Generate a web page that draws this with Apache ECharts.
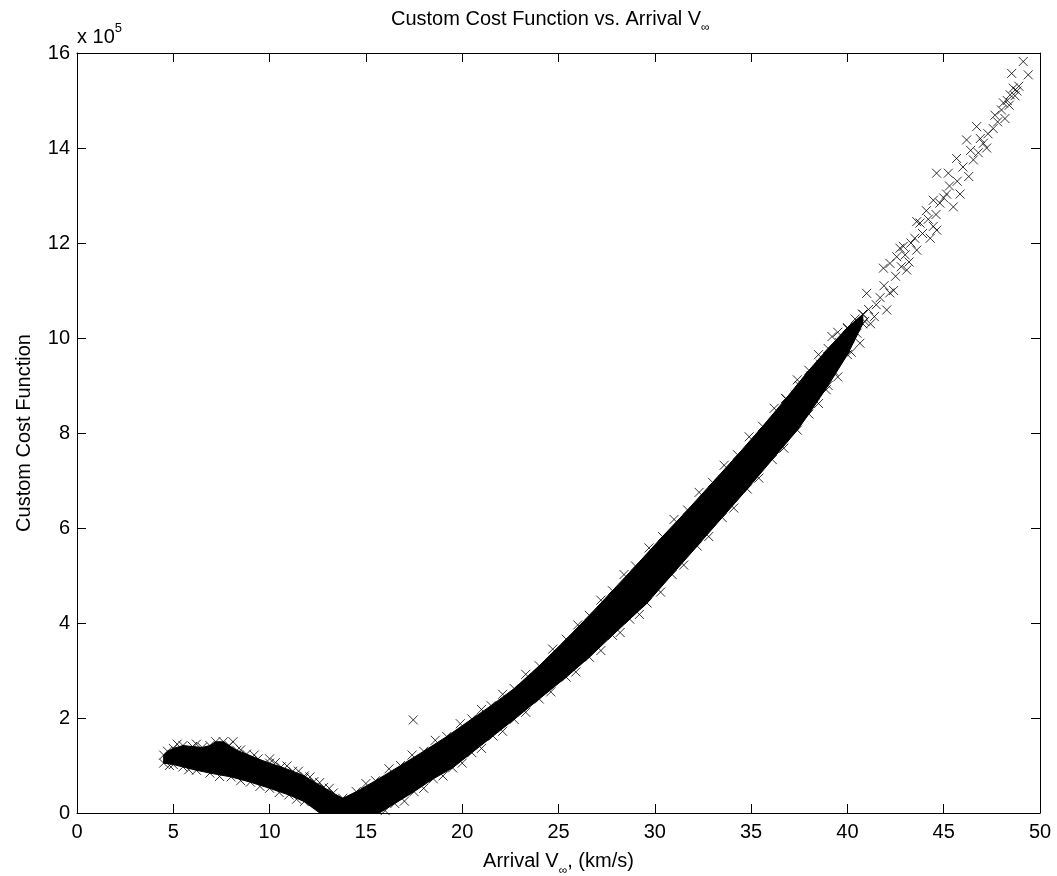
<!DOCTYPE html>
<html>
<head>
<meta charset="utf-8">
<title>Custom Cost Function vs. Arrival V∞</title>
<script src="https://cdn.jsdelivr.net/npm/echarts@6/dist/echarts.min.js"></script>
<style>
  html, body { margin: 0; padding: 0; background: #fff; }
  #main { width: 1057px; height: 876px; }
</style>
</head>
<body>
<div id="main"></div>
<script>
// values, y in units of 1e5
var xTicks = [0, 5, 10, 15, 20, 25, 30, 35, 40, 45, 50];
var yTicks = [0, 2, 4, 6, 8, 10, 12, 14, 16];

// upper edge of the dense cloud, left to right
var bandUpper = [
    [4.5, 1.22], [4.7, 1.30], [5.0, 1.36], [5.5, 1.42], [6.0, 1.40], [6.5, 1.38],
    [6.9, 1.42], [7.2, 1.50], [7.6, 1.50], [7.9, 1.42], [8.3, 1.32], [8.8, 1.24],
    [9.4, 1.14], [10.0, 1.05], [10.6, 0.97], [11.2, 0.88], [11.8, 0.78], [12.3, 0.66],
    [12.8, 0.54], [13.3, 0.42], [13.8, 0.31], [14.5, 0.45], [15.5, 0.68], [16.8, 1.00],
    [18.0, 1.30], [19.2, 1.61], [20.5, 1.98], [21.5, 2.26], [22.7, 2.62], [24.0, 3.10],
    [25.4, 3.66], [26.6, 4.16], [27.8, 4.68], [29.0, 5.20], [30.4, 5.82], [31.7, 6.38],
    [33.0, 6.96], [34.3, 7.54], [35.6, 8.14], [36.8, 8.72], [38.0, 9.32], [39.0, 9.78],
    [40.0, 10.22], [40.8, 10.50]
];
// lower edge of the dense cloud, left to right
var bandLower = [
    [4.5, 1.05], [5.0, 1.02], [5.5, 0.97], [6.2, 0.90], [6.9, 0.84], [8.0, 0.76],
    [9.0, 0.65], [10.0, 0.52], [11.0, 0.38], [11.8, 0.24], [12.6, 0.0], [15.7, 0.0],
    [16.5, 0.20], [17.5, 0.45], [18.5, 0.72], [19.5, 0.95], [20.5, 1.27], [21.6, 1.62],
    [22.7, 1.97], [24.0, 2.40], [25.4, 2.86], [26.6, 3.28], [27.8, 3.74], [28.7, 4.08],
    [29.6, 4.42], [30.9, 5.02], [32.2, 5.62], [33.5, 6.22], [34.8, 6.82], [36.1, 7.44],
    [37.4, 8.06], [38.0, 8.40], [39.0, 9.00], [40.0, 9.65], [40.8, 10.30]
];
// markers poking out of the band edges
var edgeFuzz = [
    [5.2, 1.45], [6.2, 1.45], [8.5, 1.33], [9.2, 1.22], [10.3, 1.06], [10.9, 0.99],
    [11.5, 0.88], [12.1, 0.76], [12.6, 0.64], [13.1, 0.52],
    [4.8, 1.00], [5.8, 0.91], [7.4, 0.77], [8.5, 0.68], [9.5, 0.56], [10.5, 0.43], [11.4, 0.29],
    [16.0, 0.05], [17.0, 0.25], [18.0, 0.52], [19.0, 0.78], [20.0, 1.05], [21.0, 1.36],
    [22.1, 1.72], [23.3, 2.12], [24.6, 2.55], [25.9, 2.97], [27.2, 3.42], [28.2, 3.80],
    [29.2, 4.18], [30.3, 4.65], [31.5, 5.22], [32.8, 5.82], [34.1, 6.42], [35.4, 7.05],
    [36.7, 7.68], [38.5, 8.62], [39.5, 9.18],
    [15.0, 0.62], [16.2, 0.93], [17.4, 1.22], [18.6, 1.53], [19.9, 1.88], [21.0, 2.18],
    [22.1, 2.50], [23.3, 2.92], [24.7, 3.45], [26.0, 3.96], [27.2, 4.48], [28.4, 5.02],
    [29.7, 5.58], [31.0, 6.18], [32.3, 6.75], [33.6, 7.32], [34.9, 7.92], [36.2, 8.52],
    [37.4, 9.12], [38.5, 9.65], [39.5, 10.12]
];
// loose markers at the top end
var sparsePoints = [
    [36.8, 8.73], [37.2, 8.55], [37.5, 9.00], [37.8, 8.70], [38.1, 9.20], [38.3, 8.80],
    [38.6, 9.45], [38.9, 8.91], [39.2, 10.03], [39.4, 9.50], [39.7, 9.75], [40.0, 10.20],
    [40.2, 9.70], [40.4, 10.40], [40.65, 9.89], [40.8, 10.50], [41.0, 10.94], [41.2, 10.30],
    [41.5, 10.70], [41.87, 11.47], [42.04, 10.59], [42.21, 11.57], [42.4, 11.00], [42.56, 11.71],
    [42.73, 11.89], [42.9, 11.93], [43.08, 11.43], [43.3, 12.00], [43.6, 12.45], [43.6, 11.85],
    [43.77, 12.42], [44.1, 12.68], [44.3, 12.10], [44.46, 12.35], [44.46, 12.90], [44.63, 13.47],
    [44.64, 12.27], [44.8, 12.84], [45.15, 13.03], [45.24, 13.47], [45.5, 12.76], [45.67, 13.78],
    [45.85, 13.03], [46.19, 14.17], [46.3, 13.40], [46.54, 13.75], [46.71, 14.45], [46.8, 13.90],
    [47.06, 14.10], [47.23, 14.00], [47.57, 14.41], [47.66, 14.69], [48.0, 14.80], [48.18, 14.62],
    [48.3, 15.00], [48.45, 15.12], [48.53, 15.57], [48.61, 15.26], [48.7, 15.10], [48.9, 15.30],
    [49.13, 15.82], [49.39, 15.54],
    [37.0, 8.40], [37.3, 8.80], [37.6, 8.65], [37.9, 9.05], [38.2, 8.95], [38.5, 9.10],
    [38.8, 9.35], [39.0, 9.60], [39.3, 9.30], [39.6, 9.90], [39.9, 9.80], [40.1, 10.00],
    [40.5, 10.10], [40.9, 10.35], [41.1, 10.60], [41.4, 10.45], [41.7, 10.85], [41.9, 11.10],
    [42.2, 10.95], [42.5, 11.30], [42.8, 11.50], [43.0, 11.75], [43.2, 11.60], [43.5, 12.10],
    [43.9, 12.20], [44.2, 12.50], [44.6, 12.60], [45.0, 12.95], [45.3, 13.20], [45.7, 13.30],
    [46.0, 13.60], [46.4, 13.95], [46.9, 14.20], [47.3, 14.30], [47.8, 14.55], [48.1, 14.95],
    [48.4, 14.90], [48.8, 15.20]
];
// stray points off the band
var outliers = [[8.1, 1.50], [10.0, 1.14], [11.8, 0.74], [17.46, 1.96]];

var myChart = echarts.init(document.getElementById('main'));

var FONT = 'Liberation Sans';
var crossMark = 'path://M0,0L10,10M10,0L0,10';

// markers on the band edges give it the ragged look
var edgeMarks = bandUpper.concat(bandLower).filter(function (p) { return p[1] > 0; });

function boxAxis(extra) {
    var ax = {
        type: 'value',
        axisLine: { show: true, onZero: false, lineStyle: { color: '#000', width: 1 } },
        axisTick: { show: true, inside: true, length: 9, lineStyle: { color: '#000' } },
        axisLabel: { fontFamily: FONT, fontSize: 20, color: '#000' },
        splitLine: { show: false }
    };
    for (var k in extra) ax[k] = extra[k];
    return ax;
}

var option = {
    animation: false,
    backgroundColor: '#fff',
    textStyle: { fontFamily: FONT, color: '#000' },
    title: {
        text: 'Custom Cost Function vs. Arrival V{sub|∞}',
        left: 391,
        top: 4,
        padding: 0,
        textStyle: {
            fontFamily: FONT, fontSize: 20, fontWeight: 'normal', color: '#000', lineHeight: 30,
            rich: { sub: { fontFamily: FONT, fontSize: 12, lineHeight: 12, verticalAlign: 'bottom', color: '#000' } }
        }
    },
    graphic: [{
        type: 'text',
        left: 77,
        top: 22,
        style: {
            text: 'x 10{sup|5}',
            font: '20px ' + FONT,
            fill: '#000',
            lineHeight: 30,
            rich: { sup: { fontFamily: FONT, fontSize: 13, lineHeight: 12, verticalAlign: 'top', fill: '#000' } }
        }
    }],
    grid: {
        left: 77, right: 17, top: 53, bottom: 63,
        containLabel: false,
        outerBoundsMode: 'none'
    },
    xAxis: [
        boxAxis({
            position: 'bottom',
            min: xTicks[0], max: xTicks[xTicks.length - 1], interval: 5,
            name: 'Arrival V{sub|∞}, (km/s)',
            nameLocation: 'middle',
            nameGap: 29,
            nameTextStyle: {
                fontFamily: FONT, fontSize: 20, color: '#000', lineHeight: 30,
                rich: { sub: { fontFamily: FONT, fontSize: 12, lineHeight: 12, verticalAlign: 'bottom', color: '#000' } }
            },
            axisLabel: { fontFamily: FONT, fontSize: 20, color: '#000', margin: 9 }
        }),
        boxAxis({
            position: 'top',
            min: 0, max: 50, interval: 5,
            axisLabel: { show: false }
        })
    ],
    yAxis: [
        boxAxis({
            position: 'left',
            min: yTicks[0], max: yTicks[yTicks.length - 1], interval: 2,
            name: 'Custom Cost Function',
            nameLocation: 'middle',
            nameGap: 43,
            nameTextStyle: { fontFamily: FONT, fontSize: 20, color: '#000' },
            axisLabel: { fontFamily: FONT, fontSize: 20, color: '#000', margin: 7 }
        }),
        boxAxis({
            position: 'right',
            min: 0, max: 16, interval: 2,
            axisLabel: { show: false }
        })
    ],
    series: [
        {
            // the solid part of the cloud
            type: 'custom',
            data: [0],
            renderItem: function (params, api) {
                var pts = [];
                bandUpper.forEach(function (p) { pts.push(api.coord(p)); });
                for (var i = bandLower.length - 1; i >= 0; i--) {
                    pts.push(api.coord(bandLower[i]));
                }
                return {
                    type: 'polygon',
                    shape: { points: pts },
                    style: { fill: '#000', stroke: '#000', lineWidth: 1 }
                };
            },
            silent: true,
            z: 2
        },
        {
            type: 'scatter',
            data: edgeMarks.concat(edgeFuzz, sparsePoints, outliers),
            symbol: crossMark,
            symbolSize: 9,
            itemStyle: { color: 'transparent', borderColor: '#000', borderWidth: 1 },
            z: 3
        }
    ]
};

myChart.setOption(option);
</script>
</body>
</html>
